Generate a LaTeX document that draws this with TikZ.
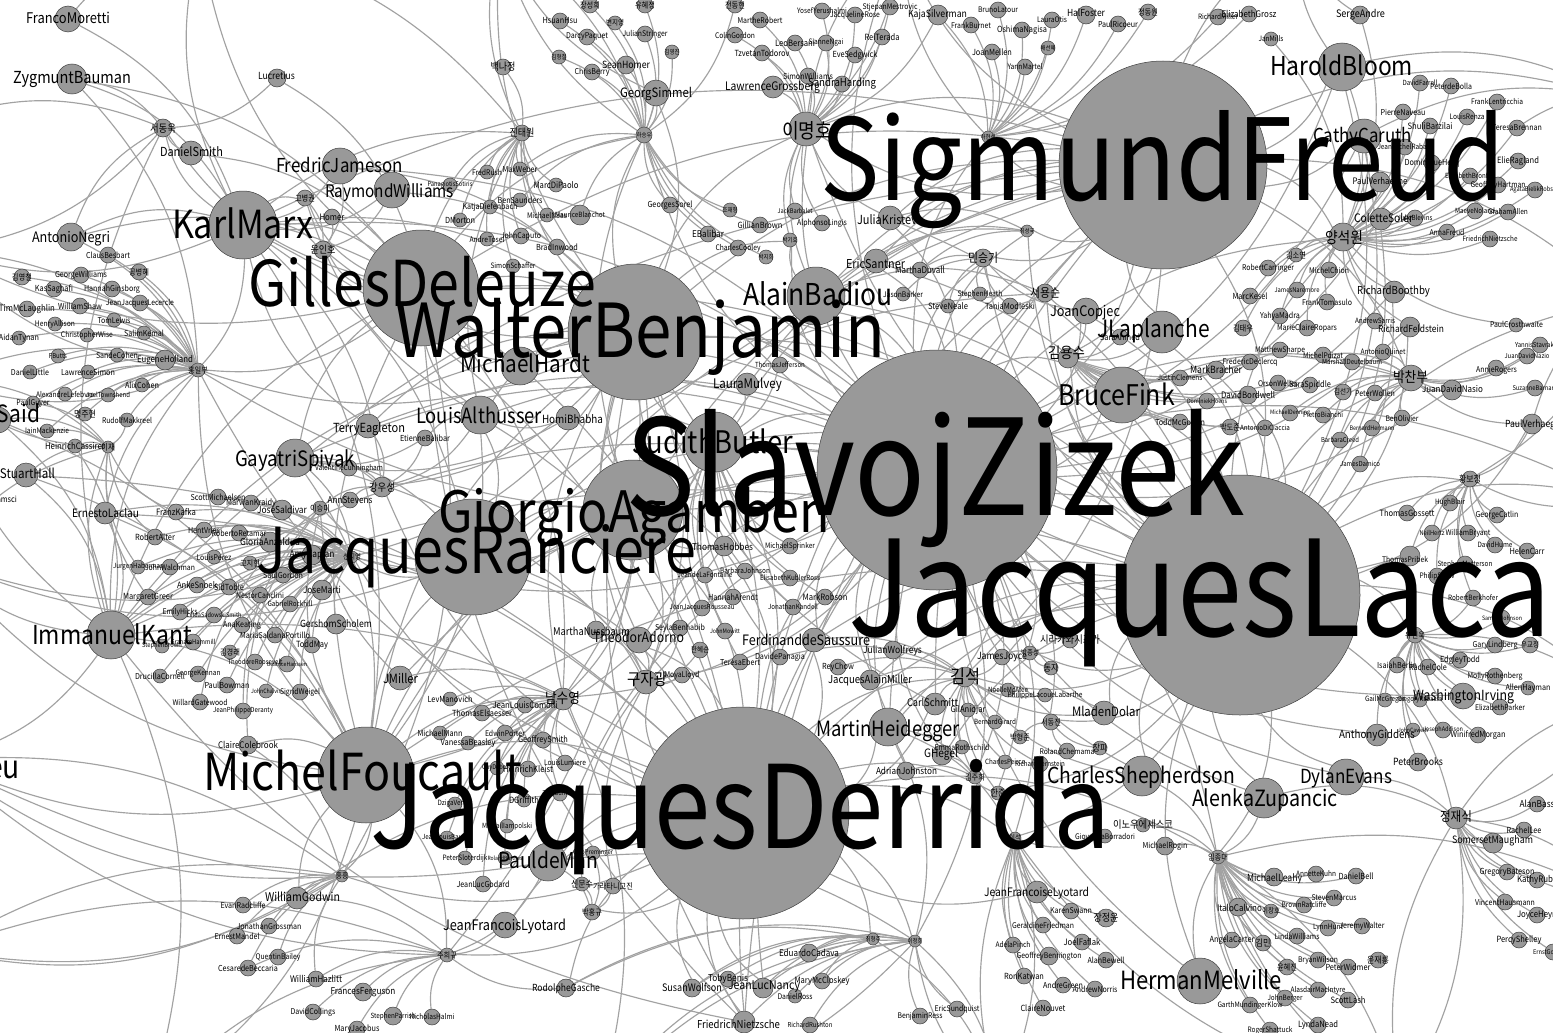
\documentclass[tikz,border=0pt]{standalone}
\usepackage{fontspec}
\usepackage{graphicx}
\setmainfont{Noto Sans CJK KR}[FakeStretch=0.88]
\usetikzlibrary{calc}
\pgfdeclarelayer{bg}
\pgfsetlayers{bg,main}
\definecolor{ngray}{HTML}{999999}
\definecolor{egray}{HTML}{A2A2A2}
\newlength\zzw
\tikzset{
 gnode/.style={circle,fill=ngray,draw=black!75,line width=0.5pt,inner sep=0pt},
 glabel/.style={inner sep=0pt,outer sep=0pt,text=black},
 edge/.style={draw=egray,line width=1.15pt},
}
\newcommand\fan[2]{\foreach \tgt in {#2}{\draw[edge] (#1) to[bend right=20] (\tgt);}}
\def\midlist{freud/1163/165/104,zizek/937/470/120,lacan/1240/595/120,derrida/743/813/106,benj/636/332/68,deleuze/421/288/58,agamben/633/510/50,ranciere/473/557/58,foucault/366/775/48,marx/243/225/34,badiou/816/296/29,butler/714/442/30,fink/1122/395/28,heid/888/727/19,shep/1142/776/20,zup/1264/798/20,evans/1346/777/18,melv/1200/981/23,bloom/1342/67/24,caruth/1364/136/17,kant/111/635/24,alth/480/415/19,hardt/520/366/19,spivak/295/458/19,eagleton/368/426/12,jameson/340/166/18,rwill/392/190/18,bauman/72/79/15,moretti/68/19/13,negri/71/237/14,dsmith/191/153/12,lucretius/277/78/9,copjec/1086/311/13,lap/1162/332/21,imh/806/129/17,ysw/1343/237/14,pcb/1411/378/13,kys/1068/358/10,jjs/1456/818/11,dolar/1104/713/12,schmitt/935/704/11,ghegel/942/755/10,ajohn/906/771/9,jfl2/1037/892/11,wirving/1463/696/13,giddens/1377/735/11,pbrooks/1418/762/9,maugham/1493/843/10,leahy/1274/877/9,calvino/1238/907/9,adorno/639/640/13,nussbaum/596/630/9,saussure/814/640/12,wolfreys/893/650/9,jamiller/870/680/10,mulvey/747/384/11,bhabha/568/418/12,hobbes/724/546/10,deman/548/862/19,jfl1/505/925/13,gasche/566/988/9,wolfson/692/988/9,nancy/763/988/10,nietz/744/1022/11,jmiller/400/678/12,nsy/563/699/11,jjk/646/682/12,godwin/297/898/11,laclau/105/513/11,shall/26/475/12,said/-2/420/13,simmel/656/93/13,shomer/626/65/9,gross/773/87/11,kajas/938/15/10,halfoster/1086/15/9,jdnasio/1452/390/10,boothby/1394/292/11,feldstein/1410/327/10,colette/1381/219/11,crosth/1516/325/7,sandre/1360/15/9,pribek/1410/556/10,verh/1532/424/10,bracher/1216/370/9,bordwell/1248/395/9,arogers/1496/368/8,santner/876/261/12,kristeva/890/218/12}
\def\smalllist{sdw/163/128/9/26/서동욱,
gbk/305/198/8/20/고병권,
homer/332/217/8/25/Homer,
yih/323/250/9/25/윤인호,
cbes/108/255/8/44/ClausBesbart,
kyc/22/277/8/20/김영철,
gwill/81/275/8/52/GeorgeWilliams,
gbh/139/272/8/20/공병혜,
ksag/54/289/8/38/KasSaghafi,
hging/112/289/8/56/HannahGinsborg,
wshaw/80/306/8/44/WilliamShaw,
jjlec/140/303/8/68/JeanJacquesLecercle,
mclau/27/309/8/56/TimMcLaughlin,
tlewis/114/320/7/33/TomLewis,
hallis/55/324/7/40/HenryAllison,
skemal/144/333/7/40/SalimKemal,
cwise/87/335/7/52/ChristopherWise,
atynan/19/338/7/40/AidanTynan,
fbutts/58/356/7/18/FButts,
scohen/117/355/7/42/SandeCohen,
eholl/165/360/10/56/EugeneHolland,
hib/198/370/7/20/홍일부,
dlittle/30/372/7/38/DanielLittle,
lsimon/88/372/7/54/LawrenceSimon,
acohen/142/385/7/34/AlixCohen,
alef/65/394/7/58/AlexandreLefebvre,
jtown/108/395/7/44/JoelTownshend,
pguyer/33/403/7/33/PaulGuyer,
mjh/85/414/7/22/명주현,
rmak/127/420/7/50/RudolfMakkreel,
imack/47/431/7/44/IainMackenzie,
hcass/75/446/7/60/HeinrichCassirer,
ije/108/447/6/14/이재,
vcunn/349/468/8/68/ValentineCunningham,
kws/382/487/10/26/강우성,
astev/350/500/8/45/AnnStevens,
ism/320/508/7/20/이승미,
smich/218/497/8/55/ScottMichaelsen,
mkraidy/251/503/8/50/MarwanKraidy,
jsald/282/510/10/50/JoseSaldivar,
fkafka/176/512/8/40/FranzKafka,
hvries/204/530/8/32/HentVries,
rret/239/533/8/55/RobertoRetamar,
ganz/270/542/10/60/GloriaAnzaldua,
ralter/155/537/8/40/RobertAlter,
akaplan/312/555/10/45/AmyKaplan,
hub3/352/557/6/18/신지영,
kjh/250/563/7/20/고지현,
lperez/214/557/7/35/LouisPerez,
jhab/138/567/7/50/JurgenHabermas,
jwal/170/567/8/50/JohnWalchman,
sgord/283/575/8/40/SaulGordon,
asnoek/197/585/8/40/AnkeSnoek,
stoble/229/587/8/30/SidToble,
jmarti/322/590/10/38/JoseMarti,
ncan/260/595/8/48/NestorCanclini,
mgreer/148/597/8/50/MargaretGreer,
grock/290/604/8/45/GabrielRockhill,
emil/180/612/8/35/EmilyHicks,
lssmith/214/615/8/55/LindaSadowskiSmith,
gscholem/336/624/10/72/GershomScholem,
akeat/242/625/8/38/AnaKeating,
msp/275/635/8/70/MariaSaldanaPortillo,
sbrown/162/646/7/40/StephenBrown,
ghammill/193/642/8/45/GrahamHammill,
kkr/230/652/7/20/김경래,
tmay/312/645/8/32/ToddMay,
troos/255/662/8/55/TheodoreRoosevelt,
bhanssen/287/664/8/40/BeatriceHanssen,
dcornell/160/676/7/50/DrucillaCornell,
gkennan/198/674/8/45/GeorgeKennan,
pbowman/227/685/8/45/PaulBowman,
jchal/266/691/7/30/JohnChalvis,
sweigel/300/692/8/40/SigridWeigel,
wgate/200/702/8/55/WillardGatewood,
jpder/243/711/8/60/JeanPhilippeDeranty,
ccole/248/745/9/60/ClaireColebrook,
ebalib/425/438/8/50/EtienneBalibar,
hh9/342/876/6/12/홍흥,
eradc/243/905/8/45/EvanRadcliffe,
jgross/269/926/8/65/JonathanGrossman,
emandel/237/936/8/45/ErnestMandel,
qbailey/278/957/8/45/QuentinBailey,
cbecc/248/968/8/60/CesaredeBeccaria,
whaz/316/979/8/52/WilliamHazlitt,
fferg/363/992/9/65/FrancesFerguson,
dcoll/313/1012/8/45/DavidCollings,
sparr/393/1016/9/45/StephenParrish,
nhalmi/432/1017/8/45/NicholasHalmi,
mjac/357/1029/8/45/MaryJacobus,
lmanov/450/699/7/45/LevManovich,
jlcom/525/705/8/65/JeanLouisComolli,
telsa/482/713/8/60/ThomasElsaesser,
mmann/440/733/7/45/MichaelMann,
eporter/505/733/8/40/EdwinPorter,
gsmith/543/740/8/50/GeoffreySmith,
vbeas/468/743/7/55/VanessaBeasley,
llum/565/763/8/42/LouisLumiere,
gdebord/497/768/7/30/GuyDebord,
hkleist/528/769/8/50/HeinrichKleist,
dvertov/455/804/7/35/DzigaVertov,
dwgrif/524/800/7/30/DGriffith,
tgun/560/794/7/35/TomGunning,
mlamp/507/826/7/50/MikhailIampolski,
jlbaud/447/838/7/50/JeanLouisBaudry,
psloter/465/858/7/45/PeterSloterdijk,
rbarth/505/858/7/35/RolandBarthes,
opre/593/853/7/40/OttoPreminger,
jlgod/483/884/8/53/JeanLucGodard,
smsu/582/884/7/22/신문수,
kkj/613/886/8/40/가라타니고진,
phk/592/912/8/20/박홍규,
jhg/447/955/7/20/주희규,
tbenis/728/979/8/40/TobyBenis,
ks/965/677/10/30/김석,
gani/968/710/7/35/GilAnidjar,
nmcafee/1008/690/7/40/NoelleMcAfee,
placoue/1045/695/7/75/PhilippeLacoueLabarthe,
bgirard/995/722/7/42/BernardGirard,
sdj/1051/722/8/20/서동진,
phj/1020/737/7/20/박형준,
erothsch/962/747/7/55/EmmaRothschild,
rchem/1067/751/8/55/RolandChemama,
jp/1100/748/7/15/장파,
cpeirce/1005/762/7/40/CharlesPeirce,
rbern/1040/764/8/50/RichardBernstein,
kjh2/975/777/7/20/김주희,
hj/998/793/7/15/한준,
hub11/1015/838/6/12/이석,
gborr/1105/836/7/60/GiovannaBorradori,
inoue/1143/825/7/60/이노우에세스코,
mrogin/1165/846/9/45/MichaelRogin,
kswann/1071/911/8/42/KarenSwann,
jjy/1106/918/9/25/장정윤,
gfried/1043/925/8/62/GeraldineFriedman,
ljh/915/941/6/15/이정희,
chj/873/939/6/15/최형주,
apinch/1013/945/8/35/AdelaPinch,
jfaflak/1082/942/8/37/JoelFaflak,
gbenn/1049/956/9/65/GeoffreyBennington,
abewell/1106/960/8/37/AlanBewell,
ecad/809/953/9/60/EduardoCadava,
rkatwan/1024/976/8/40/RonKatwan,
agreen/1063/985/8/40/AndreGreen,
anorris/1095/989/8/45/AndrewNorris,
mmcc/822/981/8/55/MaryMcCloskey,
dross/795/996/7/35/DanielRoss,
cnouvet/1043/1008/8/45/ClaireNouvet,
esund/957/1009/8/45/EricSundquist,
bress/920/1016/8/45/BenjaminRess,
rrush/810/1025/8/45/RichardRushton,
ahay/1528/688/7/45/AllenHayman,
gmcg/1385/700/7/40/GailMcGregor,
grab/1420/700/7/45/GregoryRabassa,
eparker/1500/707/8/50/ElizabethParker,
jcaw/1413/730/7/30/JohnCawelti,
jadd/1443/730/8/40/JosephAddison,
wmorgan/1478/735/8/55/WinifredMorgan,
alanb/1537/804/8/35/AlanBass,
rlee/1524/830/8/35/RachelLee,
ijd/1218/857/7/20/임종대,
akuhn/1316/874/8/40/AnnetteKuhn,
dbell/1356/876/8/35/DanielBell,
gbates/1507/872/8/55/GregoryBateson,
kruby/1537/880/8/40/KathyRuby,
smarcus/1334/898/8/45/StevenMarcus,
ich/1271/911/7/18/이창호,
bratc/1304/905/8/45/BrownRatcliffe,
vhaus/1505/902/8/60/VincentHausmann,
jheyn/1537/915/8/40/JoyceHeyn,
lhunt/1328/928/8/30/LynnHunt,
jwalt/1362/926/8/45/JeremyWalter,
acart/1232/940/8/45/AngelaCarter,
km/1263/943/8/15/김민,
lwill/1297/936/8/45/LindaWilliams,
pshel/1519/940/8/45/PercyShelley,
egomb/1553/952/8/40/ErnstGombrich,
yjr/1378/960/8/22/윤재룡,
bwil/1318/960/8/40/BryanWilson,
pwid/1348/967/8/45/PeterWidmer,
yhj/1287/967/8/20/윤혜진,
amac/1318/990/8/55/AlasdairMacIntyre,
jberg/1285/998/8/35/JohnBerger,
slash/1348/1000/8/35/ScottLash,
gmk/1250/1005/8/65/GarthMundingerKlow,
rshat/1270/1030/8/45/RogerShattuck,
lnead/1318/1025/8/40/LyndaNead,
msharpe/1280/350/8/50/MatthewSharpe,
mpoiz/1323/355/8/40/MichelPoizat,
mdeut/1352/362/8/60/MarshallDeutelbaum,
aquin/1383/352/8/45/AntonioQuinet,
yannis/1540/345/8/50/YannisStavrakakis,
jdn2/1527/356/8/45/JuanDavidNazio,
fdecl/1250/362/8/55/FredericDeclercq,
jclem/1180/378/8/45/JustinClemens,
owell/1278/383/8/40/OrsonWelles,
sspid/1310/385/8/42/SaraSpiddle,
ksg/1343/392/8/18/김선기,
pwoll/1375/393/8/40/PeterWollen,
sbarn/1535/388/8/45/SuzanneBarnard,
dhoens/1207/401/8/40/DominiekHoens,
mden/1290/413/8/40/MichaelDenning,
pbian/1323/415/8/40/PietroBianchi,
bolivier/1402/418/8/33/BenOlivier,
tmcg/1180/422/8/50/ToddMcGowan,
bdj/1230/427/8/20/박도준,
adic/1265/428/8/50/AntonioDiCiaccia,
bherm/1372/428/8/45/BernardHermann,
bcreed/1340/440/8/38/BarbaraCreed,
jdam/1360/464/8/40/JamesDamico,
hbj/1470/479/8/22/황보정,
hblair/1450/503/8/30/HughBlair,
tgoss/1407/513/8/55/ThomasGossett,
gcatlin/1497/515/8/43/GeorgeCatlin,
nhertz/1432/533/8/25/NeilHertz,
wbryant/1468/533/8/45/WilliamBryant,
dhume/1495/545/8/35/DavidHume,
hcarr/1527/551/8/35/HelenCarr,
smatt/1465/564/8/55/StephenMatterson,
pshaw/1437/576/8/35/PhilipShaw,
rberk/1473/598/8/50/RobertBerkhofer,
sjohn/1502/618/8/40/SamuelJohnson,
ysw2/1415/635/8/20/유신욱,
glind/1495/645/8/45/GaryLindberg,
wgj/1530/645/8/18/우교정,
etodd/1460/660/8/40/EdgleyTodd,
isberlin/1397/665/8/40/IsaiahBerlin,
rcole/1428/667/8/38/RachelCole,
mroth/1495/676/8/55/MollyRothenberg,
rmiller/1218/17/8/40/RichardMiller,
egrosz/1249/14/8/55/ElizabethGrosz,
jmills/1271/39/7/25/JanMills,
dfarr/1420/83/8/35/DavidFarrell,
pdbolla/1451/86/8/42/PeterdeBolla,
flent/1497/102/8/52/FrankLentricchia,
pnav/1403/112/8/45/PierreNaveau,
lrenza/1467/117/8/35/LouisRenza,
shuli/1430/126/8/45/ShuliBarzilai,
tbren/1517/128/8/50/TeresaBrennan,
jmrab/1405/147/8/55/JeanMichelRabate,
eragl/1518/161/8/42/ElieRagland,
dhecq/1432/163/8/55/DominiqueHecq,
ebron/1470/176/8/50/ElisabethBronfen,
pverh/1380/182/10/55/PaulVerhaeghe,
ghart/1498/185/8/55/GeoffreyHartman,
abr/1535/190/8/50/AgataBielikRobson,
jblev/1415/218/8/35/JulieBlevins,
mnol/1475/211/8/40/MaeveNoland,
gallen/1508/212/8/40/GrahamAllen,
afreud/1447/232/8/35/AnnaFreud,
fnietz2/1490/239/8/55/FriedrichNietzsche,
ksy/1296/255/7/20/김소연,
rcarr/1268/268/8/52/RobertCarringer,
mchion/1329/270/8/40/MichelChion,
jnar/1297/290/8/45/JamesNaremore,
mkesel/1250/296/8/35/MarcKesel,
ftom/1327/302/8/50/FrankTomasulo,
ymad/1280/316/8/40/YahyaMadra,
ktw/1243/328/8/20/김태우,
mcrop/1307/328/8/60/MarieClaireRopars,
asarris/1375/321/8/40/AndrewSarris,
yyer/822/11/8/50/YosefYerushalmi,
jrose/855/15/8/50/JacquelineRose,
smest/890/7/8/55/StjepanMestrovic,
blat/998/10/8/40/BrunoLatour,
lotis/1052/20/8/30/LauraOtis,
fburn/971/25/8/40/FrankBurnet,
pric/1118/24/8/40/PaulRicoeur,
jdw/1148/12/8/20/정동원,
onag/1022/30/8/50/OshimaNagisa,
lbers/795/43/8/40/LeoBersani,
sngai/826/43/8/35/SianneNgai,
rter/882/37/8/35/ReiTerada,
bsh/1048/48/7/15/배선혜,
jmel/992/52/8/40/JoanMellen,
esedg/855/55/8/45/EveSedgwick,
ymartel/1025/67/8/35/YannMartel,
swill/808/76/8/50/SimonWilliams,
shard/842/84/8/68/SandraHarding,
hhs/988/137/6/15/하현석,
jbarb/795/211/8/35/JackBarbalet,
aling/822/223/8/50/AlphonsoLingis,
pkh/790/240/7/15/박기호,
csg/1027/231/6/15/최성국,
mduv/920/270/8/50/MarthaDuvall,
jbark/903/294/7/40/JasonBarker,
sheath/980/294/7/45/StephenHeath,
sneale/948/306/7/40/SteveNeale,
tmod/1010/306/8/50/TaniaModleski,
sahmed/1120/337/8/40/SaraAhmed,
msk/983/258/9/30/민승기,
syj/1045/293/9/30/서용순,
jsh/590/5/8/20/장성희,
yhj2/645/5/8/20/유혜정,
jdh/735/5/8/20/전동현,
hhsu/560/21/8/35/HsuanHsu,
bjy/615/23/7/18/변지영,
mrob/760/20/8/45/MartheRobert,
dpaq/587/37/8/42/DarcyPaquet,
jstr/645/34/8/45/JulianStringer,
cgord/735/35/8/40/ColinGordon,
kyj/672/52/7/15/김영진,
bnj/503/67/8/25/백나정,
khc/559/57/7/15/김형철,
cberry/592/72/8/35/ChrisBerry,
ttod/762/53/8/55/TzvetanTodorov,
jtw/522/133/8/25/진태원,
hsw/644/135/8/15/하승우,
frush/487/172/7/30/FredRush,
mweber/520/169/7/35/MaxWeber,
mdp/556/185/7/45/MarcDiPaolo,
psot/450/185/7/45/PanagiotisSotiris,
kdief/490/207/7/55/KatjaDiefenbach,
bsaun/520/200/7/45/BenSaunders,
gsorel/670/205/8/45/GeorgesSorel,
jjh/730/210/7/15/조재형,
mnaas/547/215/7/40/MichaelNaas,
mblan/580/215/10/50/MauriceBlanchot,
dmort/460/220/7/30/DMorton,
gbrown/760/225/8/45/GillianBrown,
ebal/708/234/8/32/EBalibar,
atosel/487/239/7/35/AndreTosel,
jcap/521/236/8/40/JohnCaputo,
ccool/738/248/8/45/CharlesCooley,
binw/557/247/8/42/BradInwood,
pjh/766/257/7/15/박지희,
ssch/513/266/7/45/SimonSchaffer,
tjeff/780/365/8/50/ThomasJefferson,
msprink/790/546/8/50/MichaelSprinker,
jdlf/705/575/8/55/JeandeLaFontaine,
bjohn/745/571/8/50/BarbaraJohnson,
ekr/790/578/8/60/ElisabethKublerRoss,
harendt/733/597/8/50/HannahArendt,
jjrous/702/608/8/65/JeanJacquesRousseau,
sbenh/680/628/8/50/SeylaBenhabib,
jmow/725/631/8/30/JohnMowitt,
jkand/793/607/8/50/JonathanKandell,
hhs2/700/650/8/18/한혜순,
tebert/740/662/8/40/TeresaEbert,
dpan/780/657/8/50/DavidePanagia,
mlloyd/682/675/8/35/MoyaLloyd,
mrobson/825/597/8/45/MarkRobson,
rchow/838/667/8/32/ReyChow,
jjoyce/1002/657/8/50/JamesJoyce,
pjs/1030/653/7/18/박종성,
dj/1051/668/7/15/동자,
shira/1070/640/8/60/시라카와시즈카}
\def\biglist{t-zizek/625/515/620/SlavojZizek,
t-freud/820/200/685/SigmundFreud,
t-derrida/370/848/740/JacquesDerrida,
t-benj/395/357/490/WalterBenjamin,
t-deleuze/248/306/348/GillesDeleuze,
t-agamben/438/532/392/GiorgioAgamben,
t-ranciere/256/573/440/JacquesRanciere,
t-foucault/203/790/319/MichelFoucault,
t-marx/172/238/141/KarlMarx,
t-badiou/743/305/150/AlainBadiou,
t-butler/632/453/161/JudithButler,
t-fink/1058/405/117/BruceFink,
t-heid/816/736/144/MartinHeidegger,
t-shep/1047/783/188/CharlesShepherdson,
t-zup/1192/806/146/AlenkaZupancic,
t-evans/1300/783/92/DylanEvans,
t-melv/1120/989/162/HermanMelville,
t-bloom/1270/76/143/HaroldBloom,
t-kant/32/644/160/ImmanuelKant,
t-alth/416/423/126/LouisAlthusser,
t-hardt/460/372/130/MichaelHardt,
t-spivak/235/466/120/GayatriSpivak,
t-jameson/276/172/127/FredricJameson,
t-rwill/325/197/129/RaymondWilliams,
t-bauman/13/84/118/ZygmuntBauman,
t-moretti/26/24/84/FrancoMoretti,
t-negri/32/242/78/AntonioNegri,
t-caruth/1313/142/99/CathyCaruth,
t-lap/1097/337/113/JLaplanche,
t-copjec/1050/316/70/JoanCopjec,
t-santner/846/268/59/EricSantner,
t-kristeva/857/224/66/JuliaKristeva,
t-imh/782/138/50/이명호,
t-ysw/1325/243/38/양석원,
t-pcb/1393/382/35/박찬부,
t-kys/1048/358/37/김용수,
t-jjs/1440/821/32/정재식,
t-dolar/1072/716/68/MladenDolar,
t-schmitt/907/706/51/CarlSchmitt,
t-ghegel/924/757/34/GHegel,
t-ajohn/876/774/61/AdrianJohnston,
t-jfl2/984/896/105/JeanFrancoiseLyotard,
t-wirving/1413/700/101/WashingtonIrving,
t-giddens/1339/738/76/AnthonyGiddens,
t-pbrooks/1393/765/50/PeterBrooks,
t-maugham/1452/843/81/SomersetMaugham,
t-leahy/1247/881/55/MichaelLeahy,
t-calvino/1217/911/45/ItaloCalvino,
t-adorno/593/642/91/TheodorAdorno,
t-nussbaum/553/635/77/MarthaNussbaum,
t-saussure/742/645/128/FerdinanddeSaussure,
t-wolfreys/863/653/59/JulianWolfreys,
t-jamiller/828/683/84/JacquesAlainMiller,
t-mulvey/713/388/69/LauraMulvey,
t-bhabha/542/423/61/HomiBhabha,
t-hobbes/692/550/61/ThomasHobbes,
t-deman/498/868/100/PauldeMan,
t-jfl1/443/930/123/JeanFrancoisLyotard,
t-gasche/532/991/68/RodolpheGasche,
t-wolfson/662/991/60/SusanWolfson,
t-nancy/728/989/72/JeanLucNancy,
t-nietz/697/1028/83/FriedrichNietzsche,
t-jmiller/383/683/35/JMiller,
t-nsy/545/703/35/남수영,
t-jjk/627/685/40/구자광,
t-godwin/265/901/75/WilliamGodwin,
t-laclau/72/517/67/ErnestoLaclau,
t-shall/0/478/55/StuartHall,
t-said/-3/422/43/Said,
t-gramsci/-11/502/28/Gramsci,
t-bourdieu/-180/778/200/PierreBourdieu,
t-eagleton/333/432/72/TerryEagleton,
t-dsmith/160/156/63/DanielSmith,
t-lucretius/258/80/37/Lucretius,
t-simmel/620/97/72/GeorgSimmel,
t-shomer/602/68/48/SeanHomer,
t-gross/725/90/95/LawrenceGrossberg,
t-kajas/908/18/59/KajaSilverman,
t-halfoster/1067/17/38/HalFoster,
t-jdnasio/1422/392/61/JuanDavidNasio,
t-boothby/1357/294/73/RichardBoothby,
t-feldstein/1378/332/66/RichardFeldstein,
t-colette/1354/222/59/ColetteSoler,
t-crosth/1490/327/53/PaulCrosthwaite,
t-sandre/1336/18/49/SergeAndre,
t-pribek/1382/562/46/ThomasPribek,
t-verh/1505/427/60/PaulVerhaeghe,
t-bracher/1190/373/52/MarkBracher,
t-bordwell/1221/398/54/DavidBordwell,
t-arogers/1476/372/41/AnnieRogers}
\settowidth{\zzw}{SlavojZizek}
\pgfmathsetmacro{\zzs}{620/\zzw}
\begin{document}
\begin{tikzpicture}[x=1pt,y=-1pt]
\useasboundingbox (0,0) rectangle (1553,1033);
% off-canvas ends
\coordinate (oL1) at (-60,120); \coordinate (oL2) at (-60,250); \coordinate (oL3) at (-60,380);
\coordinate (oL4) at (-60,560); \coordinate (oL5) at (-60,760); \coordinate (oL6) at (-60,950);
\coordinate (oT1) at (200,-60); \coordinate (oT2) at (500,-60); \coordinate (oT3) at (900,-60); \coordinate (oT4) at (1300,-60);
\coordinate (oR1) at (1620,100); \coordinate (oR2) at (1620,300); \coordinate (oR3) at (1620,500); \coordinate (oR4) at (1620,700); \coordinate (oR5) at (1620,900);
\coordinate (oB1) at (150,1100); \coordinate (oB2) at (600,1100); \coordinate (oB3) at (1000,1100); \coordinate (oB4) at (1400,1100);
% circles
\foreach \nid/\nx/\ny/\nr in \midlist {\node[gnode,minimum size={2*\nr}] (\nid) at (\nx,\ny) {};}
\foreach \nid/\nx/\ny/\nr/\nw/\ntx in \smalllist {\node[gnode,minimum size={2*\nr}] (\nid) at (\nx,\ny) {};}
% small labels
\foreach \nid/\nx/\ny/\nr/\nw/\ntx in \smalllist {\node[glabel] (\nid-t) at (\nx,\ny) {\resizebox{\nw pt}{!}{\ntx}};}
% big labels
\foreach \nid/\nx/\ny/\nw/\ntx in \biglist {\node[glabel,anchor=base west] (\nid) at (\nx,\ny) {\resizebox{\nw pt}{!}{\ntx}};}
\node[glabel,anchor=base west] (t-lacan) at (848,636) {\scalebox{\zzs}{JacquesLacan}};
% edges
\begin{pgfonlayer}{bg}
\fill[white] (0,0) rectangle (1553,1033);
\fan{hib}{fbutts,scohen,eholl,dlittle,lsimon,acohen,alef,jtown,pguyer,mjh,rmak,imack,kant,deleuze,marx,benj,oL2,oL3,bauman,negri,laclau,zizek,derrida,foucault}
\fan{hib}{cbes,gwill,gbh,ksag,hging,wshaw,jjlec,mclau,tlewis,hallis,skemal,cwise,atynan,kyc}
\fan{ije}{hcass,imack,pguyer,rmak,said,shall,kant,jhab,fkafka,oL3,oL4,ralter,mgreer}
\fan{sdw}{deleuze,marx,lucretius,dsmith,bauman,kant,oL1,negri}
\fan{yih}{jameson,rwill,homer,marx,deleuze,benj,gbk}
\fan{gbk}{marx,deleuze,alth}
\fan{kws}{eagleton,spivak,vcunn,astev,ism,alth,benj,marx,derrida,ebalib}
\fan{hub3}{smich,mkraidy,jsald,fkafka,hvries,rret,ganz,ralter,akaplan,lperez,kjh,jhab,jwal,sgord,asnoek,stoble,jmarti,ncan,mgreer,grock,emil,lssmith,gscholem,akeat,msp,sbrown,ghammill,kkr,tmay,troos,bhanssen,dcornell,gkennan,pbowman,jchal,sweigel,kant,ranciere,agamben,benj,zizek,derrida,laclau,spivak}
\fan{ism}{jpder,wgate,ccole,jmiller,foucault,ranciere}
\fan{hh9}{godwin,eradc,jgross,emandel,qbailey,cbecc,whaz,foucault,derrida,deleuze,ccole,oL5,oL6}
\fan{jhg}{whaz,fferg,dcoll,sparr,nhalmi,mjac,jfl1,foucault,derrida,benj,godwin,cbecc,oB1,deman,gasche,oL6}
\fan{nsy}{lmanov,jlcom,telsa,mmann,eporter,gsmith,vbeas,llum,gdebord,hkleist,dvertov,dwgrif,tgun,mlamp,jlbaud,psloter,rbarth,jlgod,benj,deleuze,derrida,foucault,agamben,zizek,jmiller}
\fan{jjk}{adorno,nussbaum,sbenh,mlloyd,hhs2,derrida,zizek,benj,agamben,ranciere,smsu,kkj}
\fan{phk}{deman,kkj,smsu,derrida,opre}
\fan{ljh}{ecad,mmcc,dross,rrush,bress,esund,nancy,tbenis,wolfson,nietz,derrida,heid,gasche,deman,zizek,oB2,oB3}
\fan{chj}{ecad,nancy,derrida,wolfson,gasche,mmcc,oB2}
\fan{hub11}{jfl2,kswann,gfried,apinch,jfaflak,gbenn,abewell,rkatwan,agreen,anorris,cnouvet,jjy,derrida,lacan,zizek,heid,gborr,oB3,oB4}
\fan{ks}{jamiller,saussure,wolfreys,jjoyce,gani,nmcafee,placoue,bgirard,schmitt,ghegel,heid,lacan,zizek,freud,derrida,dolar,shep,erothsch,cpeirce,rbern,kjh2,hj,rchow,dpan}
\fan{ijd}{leahy,akuhn,dbell,smarcus,calvino,ich,bratc,lhunt,jwalt,acart,km,lwill,bwil,pwid,yhj,amac,jberg,slash,gmk,rshat,lnead,melv,zup,lacan,zizek,derrida,mrogin,shep,oB4,inoue}
\fan{jjs}{maugham,rlee,alanb,gbates,kruby,vhaus,jheyn,pshel,egomb,evans,zup,lacan,oR4,oR5,oB4}
\fan{ysw2}{isberlin,rcole,etodd,glind,mroth,wgj,sjohn,rberk,giddens,wirving,lacan,jcaw,jadd,gmcg,grab,eparker,wmorgan,ahay,pbrooks}
\fan{hbj}{hblair,tgoss,gcatlin,nhertz,wbryant,dhume,hcarr,pribek,smatt,pshaw,rberk,verh,oR3,oR2,lacan}
\fan{pcb}{aquin,jdnasio,arogers,pwoll,bolivier,bherm,bcreed,jdam,lacan,zizek,freud,fink,jdn2,yannis,sbarn,mdeut,mpoiz,ksg,pbian,mden,verh}
\fan{ysw}{caruth,bloom,pnav,shuli,jmrab,pverh,colette,rcarr,mchion,jnar,boothby,mkesel,ftom,ymad,ktw,mcrop,asarris,feldstein,ksy,freud,lacan,zizek,dhecq,ebron,jblev,afreud,gallen,mnol,fnietz2,ghart,eragl,tbren,lrenza,flent,pdbolla,dfarr,sandre,jmills,abr,crosth}
\fan{kys}{zizek,lacan,fink,lap,sahmed,jclem,bracher,dhoens,tmcg,bordwell,owell,fdecl,msharpe,copjec,freud,bdj,adic,sspid}
\fan{imh}{yyer,jrose,smest,lbers,sngai,rter,esedg,swill,shard,gross,ttod,mrob,cgord,kajas,freud,zizek,lacan,benj,badiou,kristeva,jbarb,aling,pkh,oT3}
\fan{hhs}{blat,fburn,onag,jmel,ymartel,lotis,halfoster,pric,kajas,bsh,freud,zizek,jdw,egrosz,rmiller}
\fan{hsw}{simmel,shomer,cberry,dpaq,hhsu,jstr,bjy,kyj,jsh,yhj2,khc,gsorel,ebal,mblan,bsaun,mweber,benj,deleuze,zizek,agamben,ccool,gbrown,jjh,pjh,jdh,oT2}
\fan{jtw}{frush,mweber,psot,kdief,dmort,atosel,jcap,ssch,mnaas,mdp,binw,deleuze,benj,alth,marx,bnj,oT1}
\fan{csg}{kristeva,santner,badiou,zizek,lacan,freud,mduv}
\fan{msk}{zizek,lacan,freud,sheath,tmod,sneale,jbark,mduv,copjec}
\fan{syj}{badiou,zizek,lacan,ranciere,copjec}
\fan{pkh}{badiou,zizek,benj}
\fan{pjs}{jjoyce,lacan,zizek,dj,shira}
\fan{sdj}{phj,zizek,lacan,rchem,jp}
\fan{kjh2}{ghegel,ajohn,zizek,heid}
\fan{hj}{zizek,derrida,lacan}
\fan{butler}{mulvey,tjeff,msprink,ekr,bjohn,harendt,jdlf,jjrous,jmow,sbenh,tebert,dpan,mrobson,jkand}
\fan{spivak}{bhabha,ebalib}
\fan{alth}{ebalib,bhabha}
\fan{zizek}{lacan,freud,derrida,benj,deleuze,agamben,ranciere,badiou,butler,fink,copjec,dolar,zup,shep,heid,ghegel,santner,ajohn,jamiller}
\fan{zizek}{kant,marx,alth,spivak,eagleton,jameson,hardt,nietz,nancy,deman,saussure,adorno,jmiller,evans,melv,giddens,wirving,bloom,caruth,kristeva,boothby,feldstein,colette,jdnasio,pribek}
\fan{lacan}{freud,derrida,fink,lap,evans,zup,shep,dolar,jamiller,copjec,caruth,bloom}
\fan{lacan}{kant,saussure,heid,ghegel,kristeva,santner,butler,badiou,agamben,benj,deleuze,foucault,melv,jjoyce,boothby,feldstein,colette,verh,bracher,bordwell}
\fan{freud}{derrida,benj,bloom,caruth,kristeva,butler,lap,nietz}
\fan{freud}{kant,marx,deleuze,foucault,agamben,heid,schmitt,mulvey,badiou,santner,imh}
\fan{derrida}{benj,deleuze,foucault,heid,deman,nancy,nietz,agamben,saussure,butler,jfl1,jfl2,kant}
\fan{derrida}{marx,alth,spivak,ranciere,adorno,hobbes,godwin,laclau,shall,gasche,wolfson,schmitt}
\fan{benj}{deleuze,marx,agamben,adorno,foucault,butler,hardt,alth}
\fan{benj}{simmel,nsy,jjk,mulvey,hobbes,schmitt,nietz,kant,jameson,rwill,eagleton}
\fan{deleuze}{marx,foucault,hardt,negri,alth,kant,spivak,lucretius,dsmith,nietz,bauman}
\fan{agamben}{ranciere,foucault,butler,hobbes,nussbaum}
\fan{ranciere}{foucault,alth,spivak,marx}
\fan{foucault}{kant,marx,ccole,godwin,spivak,alth,laclau,shall,said,hobbes}
\fan{marx}{jameson,rwill,eagleton,negri,bauman,moretti}
\fan{kant}{laclau,shall,said,hcass,nietz}
\fan{oT1}{marx,deleuze,moretti}
\fan{oT2}{benj,simmel,hsw,jtw}
\fan{oT3}{imh,hhs,freud,zizek}
\fan{oT4}{bloom,freud,sandre}
\fan{oR1}{freud,bloom,caruth,tbren}
\fan{oR2}{freud,lacan,verh}
\fan{oR3}{lacan,zizek}
\fan{oR4}{jjs,ysw2,lacan}
\fan{oR5}{jjs,ijd}
\fan{oB1}{foucault,kant}
\fan{oB2}{ljh,nsy}
\fan{oB3}{hub11,ljh,chj}
\fan{oB4}{ijd,jjs}
\fan{oL2}{hib,marx,deleuze,sdw}
\fan{oL3}{ije,hib,kant}
\fan{oL4}{kant,ranciere,hub3,foucault}
\fan{oL5}{kant,foucault,derrida,hh9,jhg}
\fan{oL6}{hh9,godwin}
\end{pgfonlayer}
\end{tikzpicture}
\end{document}
